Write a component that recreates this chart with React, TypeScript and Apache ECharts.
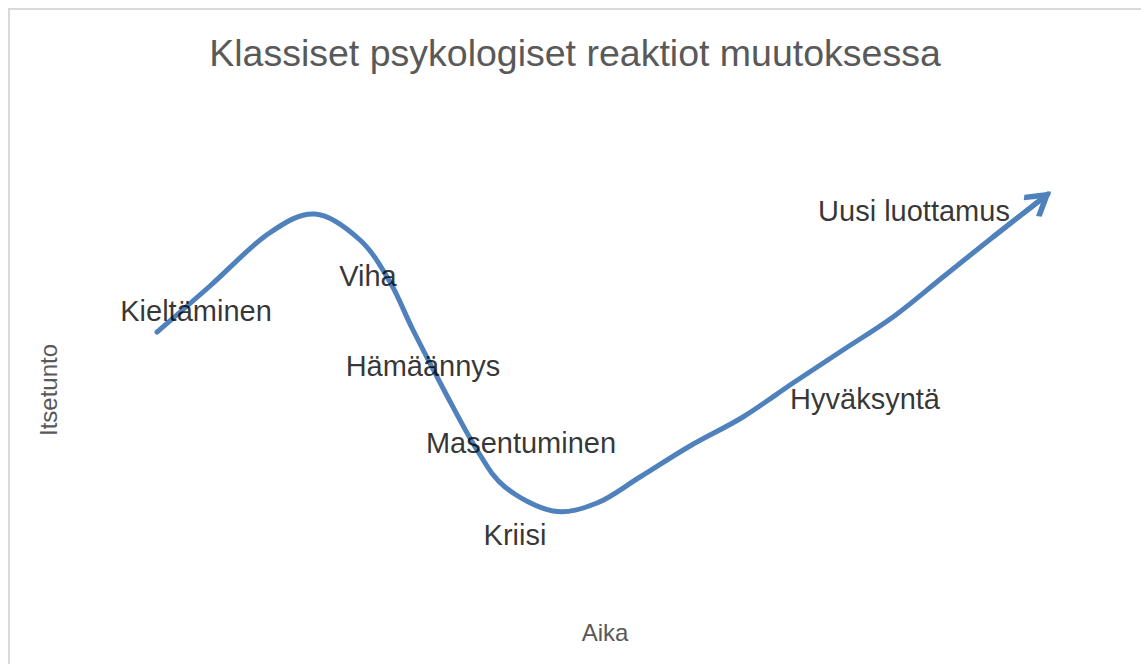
import React, { useEffect, useRef } from "react";
import * as echarts from "echarts";

const titleText = "Klassiset psykologiset reaktiot muutoksessa";
const xName = "Aika";
const yName = "Itsetunto";

// curve (time, self-esteem)
const curveX = [4.7, 10.0, 15.8, 20.5, 25.0, 28.0, 30.3, 33.5, 36.7, 39.5, 44.3, 48.7, 53.0, 58.0, 63.3, 68.3, 73.3, 78.3, 83.3, 88.3, 93.8];
const curveY = [67.0, 78.5, 91.5, 96.5, 90.0, 79.5, 67.5, 52.0, 37.5, 28.25, 22.25, 24.25, 30.75, 38.5, 45.75, 54.25, 62.5, 70.75, 80.75, 90.75, 101.5];

// stage labels and where they sit
const stages = ["Kieltäminen", "Viha", "Hämäännys", "Masentuminen", "Kriisi", "Hyväksyntä", "Uusi luottamus"];
const stageX = [8.6, 25.8, 31.3, 41.1, 40.5, 75.5, 80.4];
const stageY = [72.25, 81, 58.5, 39.25, 16.25, 50.25, 97.25];

const FONT = "'Liberation Sans', Arial, sans-serif";
const BLUE = "#4F81BD";
const ARROW = "path://M-23,-23M23,23M0,-4L14,19L10,23L0,7L-10,23L-14,19Z";

export default function App() {
  const ref = useRef<HTMLDivElement>(null);
  useEffect(() => {
    if (!ref.current) return;
    document.body.style.overflow = "hidden";
    const chart = echarts.init(ref.current, null, { renderer: "svg" });
    const curve = curveX.map((x, i) => [x, curveY[i]]);
    const n = curve.length;

    const renderCurve = (params: any, api: any) => {
      if (params.dataIndex !== 0) return null;
      const pts = curve.map((p) => api.coord(p));
      let d = `M${pts[0][0]},${pts[0][1]}`;
      for (let i = 0; i < pts.length - 1; i++) {
        const p0 = pts[Math.max(0, i - 1)];
        const p1 = pts[i];
        const p2 = pts[i + 1];
        const p3 = pts[Math.min(pts.length - 1, i + 2)];
        const c1x = p1[0] + (p2[0] - p0[0]) / 6;
        const c1y = p1[1] + (p2[1] - p0[1]) / 6;
        const c2x = p2[0] - (p3[0] - p1[0]) / 6;
        const c2y = p2[1] - (p3[1] - p1[1]) / 6;
        d += ` C${c1x},${c1y} ${c2x},${c2y} ${p2[0]},${p2[1]}`;
      }
      return {
        type: "path",
        shape: { pathData: d },
        style: { stroke: BLUE, lineWidth: 5, fill: "none", lineCap: "round", lineJoin: "round" },
        silent: true,
      };
    };

    chart.setOption({
      animation: false,
      backgroundColor: "#ffffff",
      title: {
        text: titleText,
        left: 562,
        textAlign: "center",
        top: 21,
        textStyle: { fontFamily: FONT, fontSize: 37.5, fontWeight: "normal", color: "#595959" },
      },
      graphic: [
        {
          type: "rect",
          shape: { x: 1, y: 1, width: 4000, height: 4000 },
          style: { fill: "none", stroke: "#d9d9d9", lineWidth: 2 },
          silent: true,
        },
      ],
      grid: { left: 102, top: 172, width: 990, height: 420 },
      xAxis: {
        type: "value",
        min: 0,
        max: 99,
        name: xName,
        nameLocation: "middle",
        nameGap: 20,
        nameTextStyle: { fontFamily: FONT, fontSize: 24, color: "#595959" },
        axisLine: { show: false },
        axisTick: { show: false },
        axisLabel: { show: false },
        splitLine: { show: false },
      },
      yAxis: {
        type: "value",
        min: 0,
        max: 105,
        name: yName,
        nameLocation: "middle",
        nameGap: 50,
        nameTextStyle: { fontFamily: FONT, fontSize: 24, color: "#595959" },
        axisLine: { show: false },
        axisTick: { show: false },
        axisLabel: { show: false },
        splitLine: { show: false },
      },
      series: [
        {
          type: "custom",
          data: curve,
          renderItem: renderCurve,
          encode: { x: 0, y: 1 },
          z: 2,
          silent: true,
        },
        {
          type: "line",
          data: [curve[n - 2], curve[n - 1]],
          showSymbol: false,
          lineStyle: { color: BLUE, width: 0 },
          z: 2,
          silent: true,
          markLine: {
            silent: true,
            symbol: ["none", ARROW],
            symbolSize: 46,
            label: { show: false },
            lineStyle: { color: BLUE, width: 5, type: "solid" },
            emphasis: { disabled: true },
            data: [[{ coord: curve[n - 2] }, { coord: curve[n - 1] }]],
          },
        },
        {
          type: "scatter",
          data: stages.map((s, i) => ({ name: s, value: [stageX[i], stageY[i]] })),
          symbolSize: 0,
          z: 5,
          label: {
            show: true,
            position: "inside",
            formatter: "{b}",
            fontFamily: FONT,
            fontSize: 29,
            color: "#000000",
          },
          silent: true,
        },
      ],
    });
    return () => chart.dispose();
  }, []);
  return (
    <div
      ref={ref}
      style={{ position: "fixed", left: 8, top: 8, width: 1200, height: 700 }}
    />
  );
}
